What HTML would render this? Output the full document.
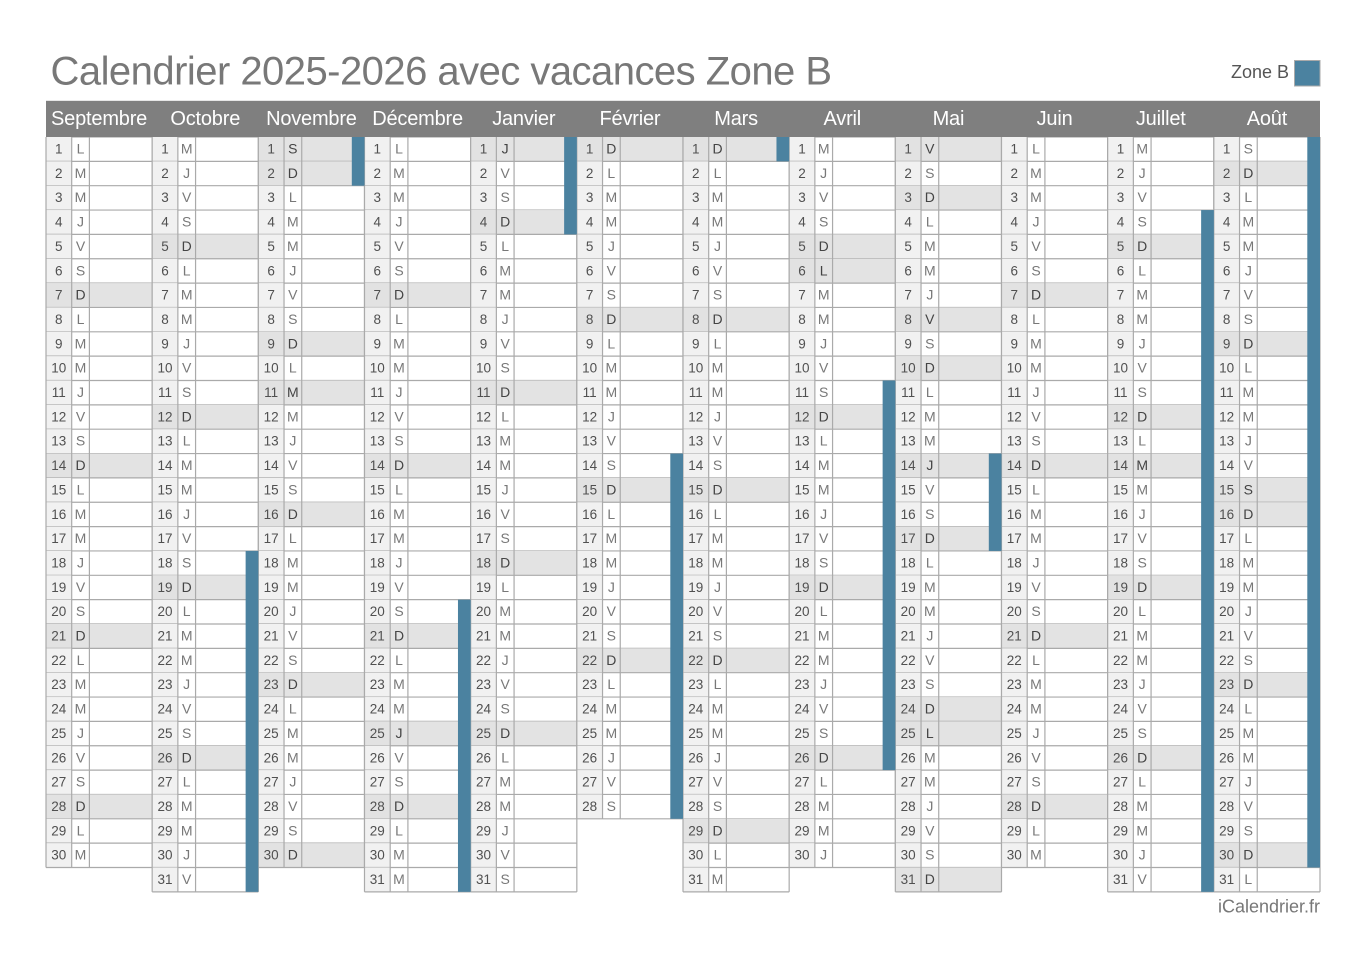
<!DOCTYPE html>
<html lang="fr">
<head>
<meta charset="utf-8">
<title>Calendrier 2025-2026 avec vacances Zone B</title>
<style>
html,body{margin:0;padding:0;background:#fff;}
body{width:1366px;height:967px;overflow:hidden;}
svg{display:block;font-family:"Liberation Sans",Arial,sans-serif;}
</style>
</head>
<body>
<svg id="cal" xmlns="http://www.w3.org/2000/svg" width="1366" height="967" viewBox="0 0 1366 967">
  <text x="50.5" y="84.6" font-size="40" letter-spacing="-0.53" fill="#787878">Calendrier 2025-2026 avec vacances Zone B</text>
  <text x="1289" y="78" font-size="18" fill="#555" text-anchor="end">Zone B</text>
  <rect x="1294.5" y="60.5" width="25.5" height="25.5" fill="#4b82a0" stroke="#aaa" stroke-width="1"/>
  <rect x="46" y="100.8" width="1274" height="36.6" fill="#7f7f7f"/>
  <g id="months"></g>
  <text x="1320" y="912.6" font-size="18" fill="#777" text-anchor="end">iCalendrier.fr</text>
</svg>
<script>
const monthNames = ["Septembre","Octobre","Novembre","Décembre","Janvier","Février","Mars","Avril","Mai","Juin","Juillet","Août"];
const monthLengths = [30,31,30,31,31,28,31,30,31,30,31,31];
const firstWeekdays = [0,2,5,0,3,6,6,2,4,0,2,5];
const weekdayLetters = ["L","M","M","J","V","S","D"];
const publicHolidays = [[2,1],[2,11],[3,25],[4,1],[7,6],[8,1],[8,8],[8,14],[8,25],[10,14],[11,15]];
const vacationRanges = [[1,18,31],[2,1,2],[3,20,31],[4,1,4],[5,14,28],[6,1,1],[7,11,26],[8,14,17],[10,4,31],[11,1,30]];

const NS = "http://www.w3.org/2000/svg";
const X0 = 46, COL_W = 1274 / 12, Y0 = 137, ROW_H = 24.35;
const xAt = m => X0 + m * COL_W;
const yAt = d => Y0 + (d - 1) * ROW_H;
const root = document.getElementById("months");

function make(tag, parent, props, text) {
  const el = document.createElementNS(NS, tag);
  for (const k in props) el.setAttribute(k, props[k]);
  if (text !== undefined) el.textContent = text;
  parent.appendChild(el);
  return el;
}

monthNames.forEach((name, m) => {
  const x = xAt(m);
  const len = monthLengths[m];
  const g = make("g", root, {});
  
  

  const title = make("text", g, {x: x + COL_W / 2, y: 125, "font-size": 20, "letter-spacing": -0.2, fill: "#fff", "text-anchor": "middle"}, name);
  
  

  for (let d = 1; d <= len; d++) {
    const wd = (firstWeekdays[m] + d - 1) % 7;
    const isHoliday = publicHolidays.some(h => h[0] === m && h[1] === d);
    const shaded = wd === 6 || isHoliday;
    const y = yAt(d);
    const row = make("g", g, {});
    
    

    if (shaded) {
      const band = make("rect", row, {x: x, y: y, width: COL_W, height: ROW_H, fill: "#e3e3e3"});
      
      
    }
    const dateBg = make("rect", row, {x: x, y: y, width: 25.5, height: ROW_H, fill: shaded ? "#e2e2e2" : "#f1f1f1"});
    
    

    const num = make("text", row, {x: x + 12.8, y: y + 16.5, "font-size": 13.5, fill: "#505050", "text-anchor": "middle"}, String(d));
    
    

    const letter = make("text", row, {x: x + 34.5, y: y + 16.5, "font-size": 14, fill: shaded ? "#444" : "#787878", "text-anchor": "middle"}, weekdayLetters[wd]);
    
    

    const rule = make("line", row, {x1: x, x2: x + COL_W, y1: y + ROW_H, y2: y + ROW_H, stroke: "#aaa", "stroke-width": 1.2});
    
    
  }

  const bottom = yAt(len + 1);
  [0, 25.7, 43.4, COL_W].forEach(dx => {
    const v = make("line", g, {x1: x + dx, x2: x + dx, y1: Y0, y2: bottom, stroke: "#aaa", "stroke-width": 1.2});
    
    
  });
});

vacationRanges.forEach(r => {
  const right = xAt(r[0] + 1);
  const bar = make("rect", root, {x: right - 12.7, y: yAt(r[1]), width: 12.7, height: (r[2] - r[1] + 1) * ROW_H, fill: "#4b82a0"});
  
  
});
</script>
</body>
</html>
